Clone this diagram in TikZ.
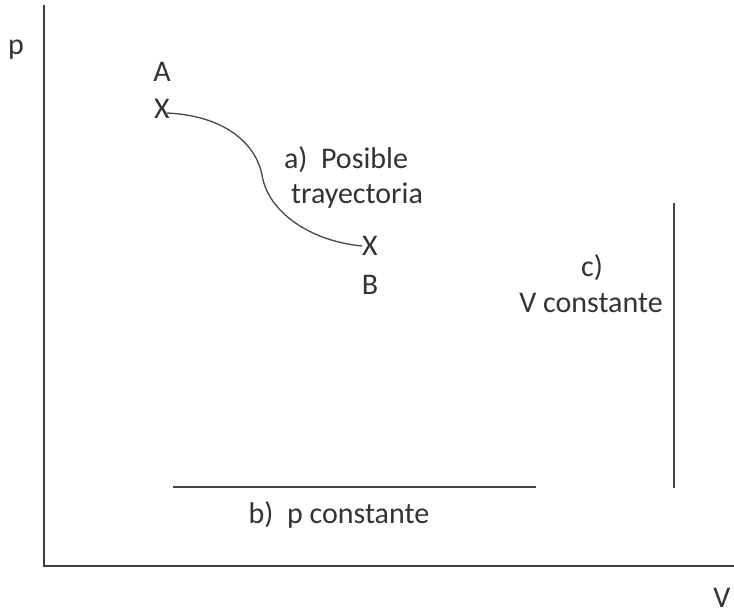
\documentclass[tikz,border=0pt]{standalone}
\usepackage{fontspec}
\setmainfont{Carlito}
\definecolor{ink}{HTML}{333333}
\definecolor{axis}{HTML}{3C3C3C}
\begin{document}
\begin{tikzpicture}[x=1pt,y=-1pt,
  lbl/.style={font=\fontsize{30}{35}\selectfont, text=ink, inner sep=0pt, align=center},
  thin line/.style={draw=ink!90, line width=1.3pt},
  axisline/.style={draw=axis, line width=2.2pt}]
\useasboundingbox (0,0) rectangle (734,614);
% axes
\coordinate (top) at (44,5);
\coordinate (origin) at (44,566);
\coordinate (right) at (734,566);
\draw[axisline] (top) -- (origin) -- (right);
\node[lbl] (p) at (16,50) {p};
\node[lbl] (V) at (722,598) {V};
% a) trajectory
\node[lbl] (A) at (162,72) {A};
\node[lbl] (xa) at (162,109) {X};
\node[lbl] (xb) at (370,246) {X};
\node[lbl] (B) at (370,285) {B};
\draw[thin line] (167,113) .. controls (230,116) and (257,148) .. (262,175)
  .. controls (268,212) and (310,241) .. (xb.west);
\node[lbl] (a) at (346,160) {a)\ \ Posible};
\node[lbl] (atxt) at (357,196) {trayectoria};
% b) constant p
\coordinate (b1) at (173,487);
\coordinate (b2) at (536,487);
\draw[thin line] (b1) -- (b2);
\node[lbl] (b) at (339,515) {b)\ \ p constante};
% c) constant V
\coordinate (c1) at (674,203);
\coordinate (c2) at (674,488);
\draw[thin line] (c1) -- (c2);
\node[lbl] (c) at (592,268) {c)};
\node[lbl] (ctxt) at (591,303) {V constante};
\end{tikzpicture}
\end{document}
